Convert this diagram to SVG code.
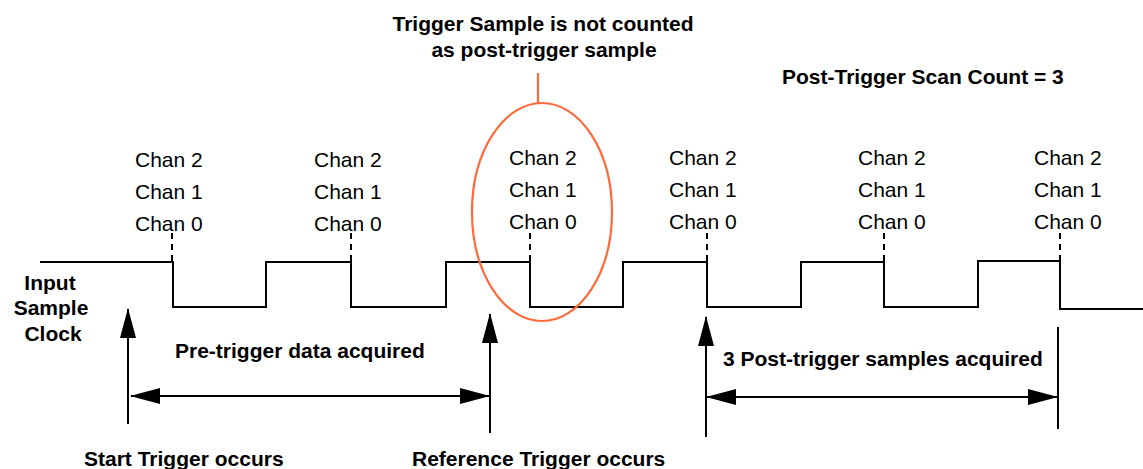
<svg xmlns="http://www.w3.org/2000/svg" width="1143" height="469" viewBox="0 0 1143 469">
<style>
.b{font-family:"Liberation Sans",Arial,Helvetica,sans-serif;font-weight:bold;font-size:21px;fill:#000}
.r{font-family:"Liberation Sans",Arial,Helvetica,sans-serif;font-size:21px;fill:#000}
.w{fill:none;stroke:#000;stroke-width:2}
.d{fill:none;stroke:#000;stroke-width:2;stroke-dasharray:6 5}
.o{fill:none;stroke:#FF6A3A;stroke-width:2.2}
</style>
<defs>
<marker id="ah" viewBox="0 0 30 16" markerWidth="30" markerHeight="16" refX="29" refY="8" orient="auto-start-reverse" markerUnits="userSpaceOnUse">
<path d="M0,0 L30,8 L0,16 z" fill="#000"/>
</marker>
</defs>
<rect width="1143" height="469" fill="#fff"/>
<g id="clock">
<path class="w" d="M40,262 H173 V307 H266 V262 H351 V307 H446 V262 H530 V307 H623 V262 H707 V307 H801 V262 H884 V307 H978 V261 H1060 V309 H1143"/>
<text class="b" text-anchor="middle" x="50" y="290">Input</text>
<text class="b" text-anchor="middle" x="51" y="315">Sample</text>
<text class="b" text-anchor="middle" x="53" y="341">Clock</text>
</g>
<g id="samples">
<path class="d" d="M172,233 V262 M351,233 V262 M530,233 V262 M707,233 V262 M884,233 V262 M1060,233 V262"/>
</g>
<g id="col1"><text class="r" x="135" y="167">Chan 2</text><text class="r" x="135" y="199">Chan 1</text><text class="r" x="135" y="231">Chan 0</text></g>
<g id="col2"><text class="r" x="314" y="167">Chan 2</text><text class="r" x="314" y="199">Chan 1</text><text class="r" x="314" y="231">Chan 0</text></g>
<g id="col3"><text class="r" x="509" y="165">Chan 2</text><text class="r" x="509" y="197">Chan 1</text><text class="r" x="509" y="229">Chan 0</text></g>
<g id="col4"><text class="r" x="669" y="165">Chan 2</text><text class="r" x="669" y="197">Chan 1</text><text class="r" x="669" y="229">Chan 0</text></g>
<g id="col5"><text class="r" x="858" y="165">Chan 2</text><text class="r" x="858" y="197">Chan 1</text><text class="r" x="858" y="229">Chan 0</text></g>
<g id="col6"><text class="r" x="1034" y="165">Chan 2</text><text class="r" x="1034" y="197">Chan 1</text><text class="r" x="1034" y="229">Chan 0</text></g>
<g id="note">
<ellipse class="o" cx="542" cy="212" rx="70" ry="109"/>
<path class="o" d="M538,73 V104"/>
<text class="b" text-anchor="middle" x="543" y="31">Trigger Sample is not counted</text>
<text class="b" text-anchor="middle" x="544" y="57">as post-trigger sample</text>
</g>
<g id="count"><text class="b" x="782" y="84">Post-Trigger Scan Count = 3</text></g>
<g id="connectors">
<path class="w" d="M128,424 V309" marker-end="url(#ah)"/>
<path class="w" d="M490,433 V314" marker-end="url(#ah)"/>
<path class="w" d="M706,437 V317" marker-end="url(#ah)"/>
<path class="w" d="M1058,327 V429"/>
<path class="w" d="M131,396 H489" marker-start="url(#ah)" marker-end="url(#ah)"/>
<path class="w" d="M707,397 H1057" marker-start="url(#ah)" marker-end="url(#ah)"/>
</g>
<g id="labels">
<text class="b" x="175" y="358">Pre-trigger data acquired</text>
<text class="b" x="723" y="366">3 Post-trigger samples acquired</text>
<text class="b" x="84" y="466">Start Trigger occurs</text>
<text class="b" x="412" y="466">Reference Trigger occurs</text>
</g>
</svg>
